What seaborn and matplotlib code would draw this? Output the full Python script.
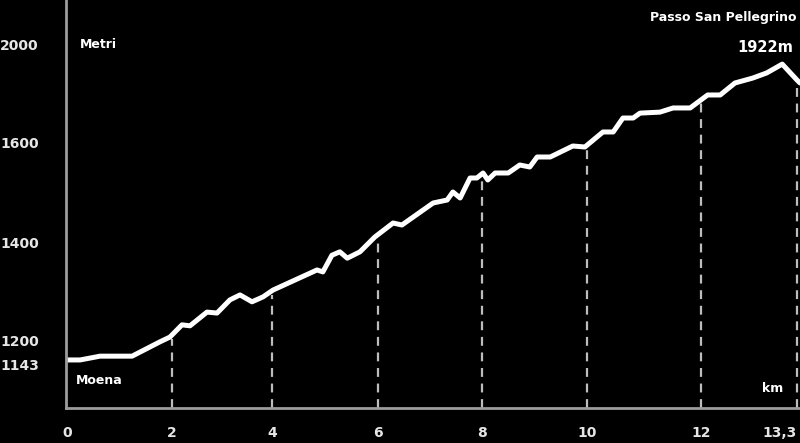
import numpy as np
import matplotlib
matplotlib.use("Agg")
import matplotlib.pyplot as plt
import seaborn as sns

# Elevation profile Moena -> Passo San Pellegrino
km = [0, 0.25, 0.63, 1.24, 1.77, 1.96, 2.2, 2.36, 2.7, 2.9,
      3.16, 3.36, 3.6, 3.82, 4.02, 4.85, 4.96, 5.13, 5.28, 5.42,
      5.66, 5.94, 6.29, 6.46, 7.06, 7.33, 7.44, 7.58, 7.77, 7.9,
      8.02, 8.11, 8.25, 8.5, 8.72, 8.91, 9.05, 9.3, 9.73, 9.96,
      10.28, 10.46, 10.63, 10.81, 10.93, 11.28, 11.51, 11.81, 12.09, 12.26,
      12.46, 12.7, 12.89, 13.1, 13.3, 13.34]
elev = [1155, 1155, 1164, 1164, 1198, 1208, 1233, 1231, 1259, 1257,
        1284, 1294, 1280, 1290, 1304, 1345, 1341, 1375, 1382, 1369,
        1382, 1412, 1440, 1436, 1480, 1486, 1502, 1490, 1530, 1530,
        1540, 1526, 1540, 1540, 1556, 1552, 1572, 1572, 1594, 1592,
        1645, 1645, 1702, 1702, 1722, 1726, 1743, 1743, 1796, 1796,
        1845, 1865, 1886, 1922, 1857, 1845]

x_ticks = [0, 2, 4, 6, 8, 10, 12, 13.3]
x_labels = ["0", "2", "4", "6", "8", "10", "12", "13,3"]
y_ticks = [1143, 1200, 1400, 1600, 2000]
y_labels = ["1143", "1200", "1400", "1600", "2000"]

# the original axes are drawn by hand, not linearly: piecewise scale
x_knot_px = [67, 172, 272, 378, 482, 587, 701, 797]
y_knot_px = [-365, -341, -243, -143, -45]


def piecewise(src, dst):
    src = np.asarray(src, float)
    dst = np.asarray(dst, float)

    def f(v):
        v = np.asarray(v, float)
        out = np.interp(v, src, dst)
        lo = dst[0] + (v - src[0]) * (dst[1] - dst[0]) / (src[1] - src[0])
        hi = dst[-1] + (v - src[-1]) * (dst[-1] - dst[-2]) / (src[-1] - src[-2])
        out = np.where(v < src[0], lo, out)
        out = np.where(v > src[-1], hi, out)
        return out
    return f


x_fwd, x_inv = piecewise(x_ticks, x_knot_px), piecewise(x_knot_px, x_ticks)
y_fwd, y_inv = piecewise(y_ticks, y_knot_px), piecewise(y_knot_px, y_ticks)

sns.set_style("white")
plt.rcParams["font.family"] = ["DejaVu Sans"]

fig = plt.figure(figsize=(8, 4.43), dpi=100, facecolor="black")
ax = fig.add_axes([66 / 800, 35 / 443, 734 / 800, 408 / 443])
ax.set_facecolor("black")
ax.set_xscale("function", functions=(x_fwd, x_inv))
ax.set_yscale("function", functions=(y_fwd, y_inv))
ax.set_xlim(float(x_inv(66)), float(x_inv(800)))
ax.set_ylim(float(y_inv(-408)), float(y_inv(0)))

# dashed drop lines at each km mark
tops = np.interp(x_ticks[1:], km, elev) - 8
ax.vlines(x_ticks[1:], ax.get_ylim()[0], tops, colors="#bdbdbd",
          linewidth=1.6, linestyles=(0, (4, 3)))

sns.lineplot(x=km, y=elev, ax=ax, color="white", linewidth=3.6,
             estimator=None, sort=False)

for side in ["top", "right"]:
    ax.spines[side].set_visible(False)
for side in ["left", "bottom"]:
    ax.spines[side].set_color("#9c9c9c")
    ax.spines[side].set_linewidth(2)

ax.set_xticks(x_ticks, x_labels)
ax.set_yticks(y_ticks, y_labels)
ax.minorticks_off()
ax.tick_params(axis="x", length=0, pad=13, labelsize=10, labelcolor="#e6e6e6")
ax.tick_params(axis="y", length=0, pad=47.5, labelsize=10, labelcolor="#e6e6e6")
for lab in ax.get_yticklabels():
    lab.set_ha("left")
    lab.set_fontweight("bold")
for lab in ax.get_xticklabels():
    lab.set_fontweight("bold")
ax.get_xticklabels()[-1].set_ha("right")
ax.set_xlabel("")
ax.set_ylabel("")

txt = dict(color="white", fontweight="bold", va="center")
fig.text(80 / 800, 1 - 44 / 443, "Metri", fontsize=9, ha="left", **txt)
fig.text(76 / 800, 1 - 380 / 443, "Moena", fontsize=9, ha="left", **txt)
fig.text(762 / 800, 1 - 388 / 443, "km", fontsize=9, ha="left", **txt)
fig.text(797 / 800, 1 - 18 / 443, "Passo San Pellegrino", fontsize=9, ha="right", **txt)
fig.text(793 / 800, 1 - 47 / 443, "1922m", fontsize=10.5, ha="right", **txt)

fig.savefig("out.png", dpi=100, facecolor="black")
